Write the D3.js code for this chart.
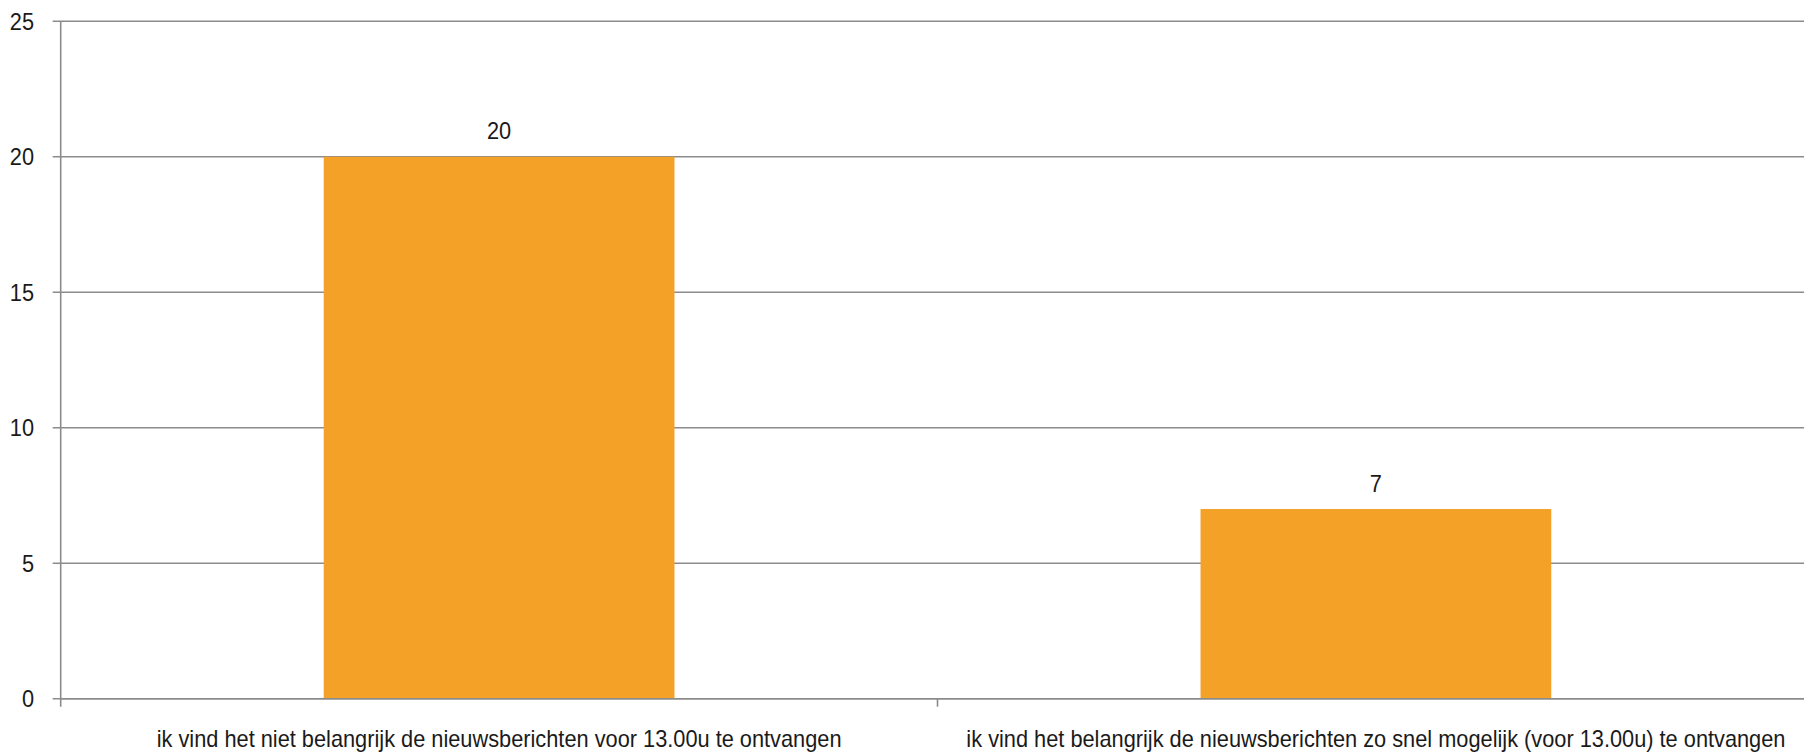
<!DOCTYPE html>
<html>
<head>
<meta charset="utf-8">
<script src="https://cdn.jsdelivr.net/npm/d3@7"></script>
<style>
  html, body { margin: 0; padding: 0; background: #fff; }
  svg text { font-family: "Liberation Sans Narrow", "Arial Narrow", "Liberation Sans", Arial, sans-serif; fill: #1a1a1a; }
</style>
</head>
<body>
<svg id="chart" width="1804" height="753"></svg>
<script>
const categories = [
  "ik vind het niet belangrijk de nieuwsberichten voor 13.00u te ontvangen",
  "ik vind het belangrijk de nieuwsberichten zo snel mogelijk (voor 13.00u) te ontvangen"
];
const values = [20, 7];
const yTicks = [0, 5, 10, 15, 20, 25];

(function () {
const svg = d3.select("#chart");
const mLeft = 60.7, mRight = 1814.3, mTop = 21.3, mBottom = 698.7;
const gridColor = "#8c8c8c";
const fs = 24;

const x = d3.scaleBand().domain(categories).range([mLeft, mRight]).paddingInner(0.6).paddingOuter(0.3);
const xb = d3.scaleBand().domain(categories).range([mLeft, mRight]);
const y = d3.scaleLinear().domain([0, 25]).range([mBottom, mTop]);

// measure condense factor so the first category label matches the reference width (narrow font look)
const probe = svg.append("text").attr("font-size", fs).text(categories[0]);
const w = probe.node().getComputedTextLength();
probe.remove();
const sx = Math.min(1, 685 / w);

function place(sel, fx, fy) {
  sel.attr("transform", (d, i) => `translate(${fx(d, i)},${fy(d, i)}) scale(${sx},1)`);
}

// gridlines
svg.append("g").selectAll("line").data(yTicks).join("line")
  .attr("x1", mLeft - 8).attr("x2", 1804)
  .attr("y1", d => y(d)).attr("y2", d => y(d))
  .attr("stroke", gridColor).attr("stroke-width", 1.6);

// y tick labels
svg.append("g").selectAll("text").data(yTicks).join("text")
  .attr("dy", "0.35em")
  .attr("text-anchor", "end").attr("font-size", fs)
  .text(d => d)
  .call(place, () => 34, d => y(d));

// bars
svg.append("g").selectAll("rect").data(values).join("rect")
  .attr("x", (d, i) => x(categories[i]))
  .attr("width", x.bandwidth())
  .attr("y", d => y(d))
  .attr("height", d => y(0) - y(d))
  .attr("fill", "#F4A128");

// y axis line
svg.append("line").attr("x1", mLeft).attr("x2", mLeft).attr("y1", mTop).attr("y2", mBottom + 8)
  .attr("stroke", gridColor).attr("stroke-width", 1.6);

// x axis line & category tick
svg.append("line").attr("x1", mLeft).attr("x2", 1804).attr("y1", mBottom).attr("y2", mBottom)
  .attr("stroke", gridColor).attr("stroke-width", 1.6);
svg.append("g").selectAll("line").data(categories.slice(1)).join("line")
  .attr("x1", d => xb(d)).attr("x2", d => xb(d))
  .attr("y1", mBottom).attr("y2", mBottom + 8)
  .attr("stroke", gridColor).attr("stroke-width", 1.6);

// value labels
svg.append("g").selectAll("text").data(values).join("text")
  .attr("text-anchor", "middle").attr("font-size", fs)
  .text(d => d)
  .call(place, (d, i) => x(categories[i]) + x.bandwidth() / 2, d => y(d) - 17.5);

// category labels
svg.append("g").selectAll("text").data(categories).join("text")
  .attr("text-anchor", "middle").attr("font-size", fs)
  .text(d => d)
  .call(place, d => x(d) + x.bandwidth() / 2, () => 746.7);
})();
</script>
</body>
</html>
